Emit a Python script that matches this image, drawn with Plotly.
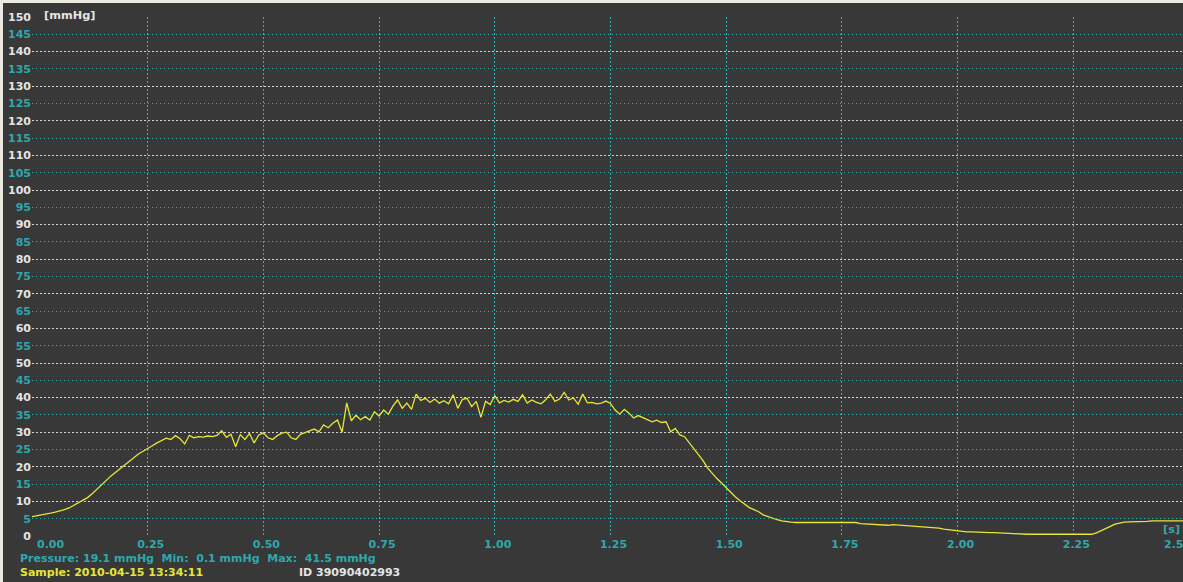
import plotly.graph_objects as go

# Pressure recording, sampled every 10 ms
time_s = [round(i * 0.01, 2) for i in range(251)]
pressure_mmhg = [
    5.6, 5.8, 6.0, 6.3, 6.6, 6.9, 7.2, 7.6, 8.1, 8.8,
    9.5, 10.2, 11.1, 12.2, 13.4, 14.8, 16.0, 17.3, 18.4, 19.5,
    20.6, 21.7, 22.8, 23.7, 24.5, 25.2, 26.1, 26.9, 27.6, 28.3,
    27.9, 29.0, 28.1, 26.6, 29.1, 28.4, 28.7, 28.6, 28.9, 28.7,
    29.1, 30.4, 28.5, 29.4, 25.8, 29.3, 27.9, 29.6, 26.9, 29.2,
    29.8, 28.4, 27.9, 29.0, 29.7, 30.0, 28.4, 27.9, 29.4, 29.9,
    30.4, 30.9, 30.1, 32.1, 31.3, 32.6, 33.5, 30.0, 38.5, 33.3,
    34.9, 33.6, 34.5, 33.5, 35.9, 34.7, 36.4, 35.2, 37.6, 39.3,
    36.9, 38.4, 36.6, 41.0, 39.2, 39.8, 38.6, 39.6, 38.4, 39.1,
    38.2, 40.8, 36.9, 39.5, 39.8, 37.4, 38.9, 34.3, 38.9, 38.0,
    40.6, 38.5, 39.2, 38.7, 39.5, 38.9, 40.8, 38.4, 39.3, 38.6,
    38.2, 39.4, 41.0, 38.9, 39.6, 41.5, 39.3, 39.9, 38.1, 41.0,
    38.5, 38.6, 38.2, 38.4, 39.0, 38.3, 36.4, 35.2, 36.6, 35.5,
    34.1, 34.8, 34.2, 33.6, 33.0, 33.5, 32.8, 33.0, 30.1, 31.1,
    29.2, 28.7, 27.0, 25.3, 23.6, 21.8, 19.6, 18.0, 16.6, 15.3,
    13.9, 12.6, 11.3, 10.2, 9.1, 8.2, 7.6, 7.0, 6.1, 5.6,
    5.1, 4.7, 4.4, 4.1, 4.0, 3.9, 3.9, 4.0, 4.1, 4.1,
    4.1, 4.1, 4.0, 4.1, 4.1, 4.1, 4.1, 4.0, 3.9, 3.6,
    3.5, 3.4, 3.3, 3.2, 3.1, 3.1, 3.3, 3.2, 3.1, 3.2,
    3.1, 3.0, 2.8, 2.7, 2.5, 2.4, 2.3, 2.0, 1.8, 1.7,
    1.5, 1.3, 1.2, 1.2, 1.1, 1.1, 1.0, 1.0, 1.0, 0.9,
    0.8, 0.8, 0.7, 0.6, 0.6, 0.5, 0.5, 0.5, 0.5, 0.5,
    0.5, 0.4, 0.4, 0.4, 0.4, 0.4, 0.5, 0.5, 0.5, 0.5,
    0.9, 1.6, 2.1, 2.8, 3.4, 3.8, 4.0, 4.1, 4.1, 4.2,
    4.3, 4.2, 4.4, 4.4, 4.4, 4.3, 4.4, 4.4, 4.4, 4.4,
    4.4,
]

x_ticks = [0.0, 0.25, 0.5, 0.75, 1.0, 1.25, 1.5, 1.75, 2.0, 2.25]
y_major = list(range(0, 151, 10))
y_minor = list(range(5, 150, 10))

pressure_now = 19.1
pressure_min = 0.1
pressure_max = 41.5
sample_stamp = "2010-04-15 13:34:11"
device_id = "39090402993"

BG = "#383838"
TEAL = "#2ea8ac"
TEAL_GRID = "#2fb4b4"
WHITE = "#e4e4e4"
YELLOW = "#e6e636"
FONT = "DejaVu Sans"
FS = 11

W, H = 1183, 582
L, R, T, B = 32, 0, 17, 46
X_MAX = (W - L - R) / 462.8  # 0.25 s per 115.7 px


def px(x):
    return (x - L) / (W - L - R)


def py(y):
    return (H - B - y) / (H - T - B)


def tick_font(color):
    return dict(color=color, size=11, family=FONT, weight="bold")


fig = go.Figure()
fig.add_trace(go.Scatter(
    x=time_s, y=pressure_mmhg, mode="lines",
    line=dict(color=YELLOW, width=1.3), hoverinfo="skip",
))
# helper trace so the secondary y axis carries the 5-mmHg grid
fig.add_trace(go.Scatter(x=[0], y=[0], yaxis="y2", mode="lines",
                         line=dict(width=0), hoverinfo="skip"))

fig.update_layout(
    width=W, height=H,
    margin=dict(l=L, r=R, t=T, b=B, pad=0),
    paper_bgcolor=BG, plot_bgcolor=BG,
    showlegend=False,
    font=dict(family=FONT, size=FS, weight="bold"),
    xaxis=dict(
        range=[0, X_MAX], tickvals=x_ticks,
        # the first label is placed separately, clear of the y labels
        ticktext=[""] + [f"{v:.2f}" for v in x_ticks[1:]],
        tickfont=tick_font(TEAL), ticklabelshift=3,
        showgrid=True, gridcolor=TEAL_GRID, griddash="2px,2px", gridwidth=1,
        zeroline=False, showline=False, ticks="",
    ),
    yaxis=dict(
        range=[0, 150], tickvals=y_major, ticktext=[str(v) for v in y_major],
        tickfont=tick_font(WHITE),
        showgrid=True, gridcolor="#d4d4d4", griddash="2px,2px", gridwidth=1,
        zeroline=False, showline=False, ticks="",
    ),
    yaxis2=dict(
        range=[0, 150], overlaying="y", side="left", anchor="x",
        tickvals=y_minor, ticktext=[str(v) for v in y_minor],
        tickfont=tick_font(TEAL),
        showgrid=True, gridcolor=TEAL_GRID, griddash="1px,3px", gridwidth=1,
        zeroline=False, showline=False, ticks="",
    ),
)

# window frame along the top and left edges
fig.add_shape(type="rect", xref="paper", yref="paper",
              x0=px(0), x1=px(W), y0=py(3), y1=py(0),
              fillcolor="#ebe9e1", line_width=0, layer="above")
fig.add_shape(type="rect", xref="paper", yref="paper",
              x0=px(0), x1=px(3), y0=py(H), y1=py(0),
              fillcolor="#ebe9e1", line_width=0, layer="above")


def label(text, x, y, color, size=FS, anchor="left"):
    fig.add_annotation(text=text, x=px(x), y=py(y), xref="paper", yref="paper",
                       xanchor=anchor, yanchor="middle", showarrow=False,
                       font=dict(color=color, size=size, family=FONT, weight="bold"))


label("[mmHg]", 42, 15.5, WHITE, size=11.3)
label("0.00", 35, 544, TEAL)
label("[s]", 1161, 529.5, TEAL, size=11.3)
label("2.50", 1162, 544, TEAL)
label(f"Pressure: {pressure_now} mmHg  Min:  {pressure_min} mmHg  Max:  {pressure_max} mmHg",
      18, 558.5, TEAL)
label(f"Sample: {sample_stamp}", 18, 572, YELLOW)
label(f"ID {device_id}", 297, 572, WHITE)

fig.write_html("out.html")
